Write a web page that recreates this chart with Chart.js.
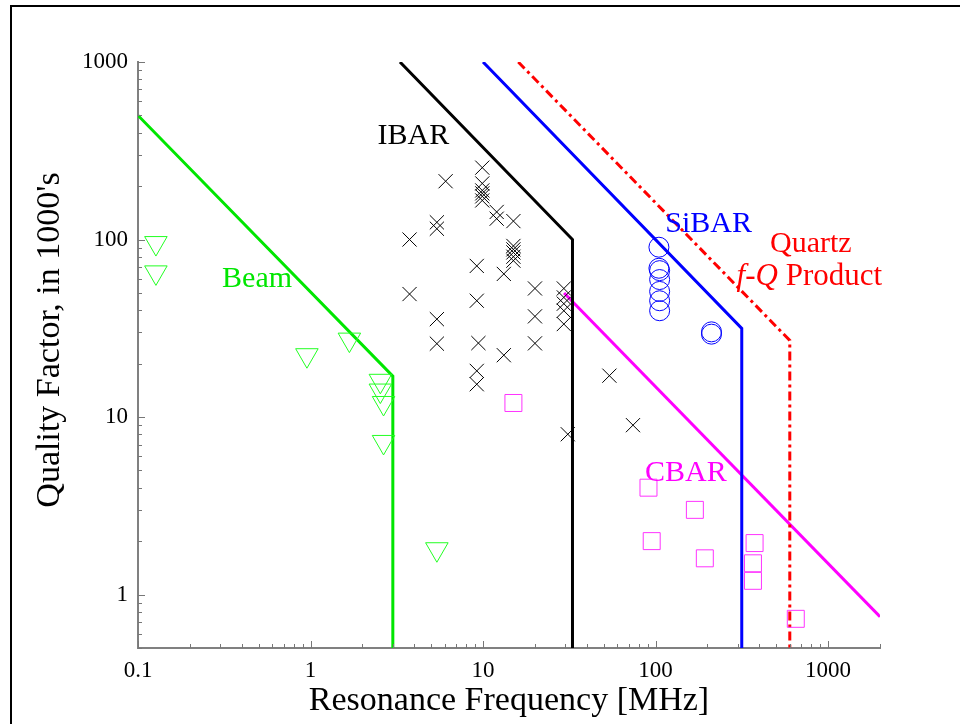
<!DOCTYPE html>
<html>
<head>
<meta charset="utf-8">
<script src="https://cdn.jsdelivr.net/npm/chart.js@4.4.0/dist/chart.umd.min.js"></script>
<style>
  html, body { margin: 0; padding: 0; background: #fff; }
  #wrap { position: relative; width: 960px; height: 724px; overflow: hidden; }
  #frame { position: absolute; left: 10px; top: 5px; width: 960px; height: 730px;
           border-left: 2px solid #000; border-top: 2px solid #000; pointer-events: none; }
</style>
</head>
<body>
<div id="wrap">
  <canvas id="qChart"></canvas>
  <div id="frame"></div>
</div>
<script>
// tick values
var xTicks = [0.1, 1, 10, 100, 1000];
var yTicks = [1, 10, 100, 1000];

// measured devices
var beamFreq = [0.127, 0.127, 0.953, 1.68, 2.54, 2.54, 2.65, 2.65, 5.4];
var beamQ = [95.5, 65.3, 22.3, 27.3, 16.0, 14.1, 12.0, 7.24, 1.8];

var ibarFreq = [6.07, 9.9, 9.9, 9.9, 9.9, 9.9, 9.9, 12, 12, 15, 5.4, 5.4, 3.75,
  15, 15, 15, 15, 15, 9.2, 13.2, 20, 29.4, 29.4, 29.4, 29.4, 29.4, 3.75, 9.2,
  5.4, 20, 5.4, 9.4, 20, 13.2, 9.2, 9.2, 31, 54, 74];
var ibarQ = [213, 254, 207, 189, 182, 175, 166, 143, 131, 127, 125, 115, 100,
  92, 88, 84.6, 80, 76, 71, 64, 53, 53, 47.2, 43.5, 39.7, 33.4, 49.3, 45.2,
  35.6, 36.9, 25.9, 26.1, 26, 22.3, 18.2, 15.3, 8, 17.1, 9];

var sibarFreq = [104.6, 104.6, 105.6, 105.6, 105.6, 105.6, 105.6, 211, 211];
var sibarQ = [90.5, 68.9, 66.8, 59.5, 51, 45.2, 39.7, 30.2, 29.3];

var cbarFreq = [15, 91, 169, 95, 193, 375, 367, 367, 650];
var cbarQ = [12, 4, 3, 2, 1.6, 1.95, 1.5, 1.195, 0.73];

// limit lines (f-Q products)
var beamLineF = [0.1, 3, 3];
var beamLineQ = [500, 17, 0.5];
var ibarLineF = [3.3, 33, 33];
var ibarLineQ = [1000, 100, 0.5];
var sibarLineF = [10, 316, 316];
var sibarLineQ = [1000, 31.6, 0.5];
var quartzLineF = [16, 600, 600];
var quartzLineQ = [1000, 27, 0.5];
var cbarLineF = [29.5, 2000];
var cbarLineQ = [50, 0.75];

function pts(xs, ys) {
  return xs.map(function (x, i) { return { x: x, y: ys[i] }; });
}

function lineSet(xs, ys, color, dash) {
  return {
    data: pts(xs, ys),
    showLine: true,
    borderColor: color,
    borderWidth: 3,
    borderDash: dash || [],
    pointRadius: 0,
    fill: false
  };
}

function markSet(xs, ys, color, style, r, rot) {
  return {
    data: pts(xs, ys),
    showLine: false,
    pointStyle: style,
    pointRadius: r,
    pointRotation: rot || 0,
    borderColor: color,
    backgroundColor: 'rgba(0,0,0,0)',
    borderWidth: 1
  };
}

// text labels placed in data coordinates
var notes = [
  { text: 'Beam', x: 0.49, y: 54, color: '#00e600' },
  { text: 'IBAR', x: 3.95, y: 344, color: '#000000' },
  { text: 'SiBAR', x: 203, y: 110, color: '#0000ff' },
  { text: 'Quartz', x: 794, y: 84.7, color: '#ff0000' },
  { text: 'CBAR', x: 150, y: 4.35, color: '#ff00ff' }
];

var serif = '"Liberation Serif", "Times New Roman", serif';

var extras = {
  id: 'extras',
  afterDraw: function (chart) {
    var ctx = chart.ctx, xs = chart.scales.x, ys = chart.scales.y, a = chart.chartArea;
    ctx.save();
    ctx.strokeStyle = '#777';
    ctx.lineWidth = 1;
    ctx.beginPath();
    for (var d = -1; d <= 3; d++) {
      for (var k = 1; k <= 9; k++) {
        var v = k * Math.pow(10, d);
        var len = k === 1 ? 7 : 4;
        if (v >= xs.min * 0.999 && v <= xs.max * 1.001) {
          var px = Math.round(xs.getPixelForValue(v)) + 0.5;
          ctx.moveTo(px, a.bottom);
          ctx.lineTo(px, a.bottom - len);
        }
        if (v >= ys.min * 0.999 && v <= ys.max * 1.001) {
          var py = Math.round(ys.getPixelForValue(v)) + 0.5;
          ctx.moveTo(a.left, py);
          ctx.lineTo(a.left + len, py);
        }
      }
    }
    ctx.stroke();

    ctx.font = '30px ' + serif;
    ctx.textAlign = 'center';
    ctx.textBaseline = 'alphabetic';
    notes.forEach(function (n) {
      ctx.fillStyle = n.color;
      ctx.fillText(n.text, xs.getPixelForValue(n.x), ys.getPixelForValue(n.y));
    });

    // "f-Q Product" with italic f-Q
    var cx = xs.getPixelForValue(779), cy = ys.getPixelForValue(55.7);
    ctx.fillStyle = '#ff0000';
    ctx.font = 'italic 31px ' + serif;
    var w1 = ctx.measureText('f-Q').width;
    ctx.font = '31px ' + serif;
    var w2 = ctx.measureText(' Product').width;
    var sx = cx - (w1 + w2) / 2;
    ctx.textAlign = 'left';
    ctx.font = 'italic 31px ' + serif;
    ctx.fillText('f-Q', sx, cy);
    ctx.font = '31px ' + serif;
    ctx.fillText(' Product', sx + w1, cy);

    // y axis title, a little above the axis centre as in the original
    ctx.translate(50, 340);
    ctx.rotate(-Math.PI / 2);
    ctx.textAlign = 'center';
    ctx.textBaseline = 'middle';
    ctx.fillStyle = '#000';
    ctx.font = '34px ' + serif;
    ctx.fillText("Quality Factor, in 1000's", 0, 0);
    ctx.restore();
  }
};

var ctx = document.getElementById('qChart').getContext('2d');
var qChart = new Chart(ctx, {
  type: 'scatter',
  data: {
    datasets: [
      markSet(beamFreq, beamQ, '#22ff22', 'triangle', 13, 180),
      markSet(ibarFreq, ibarQ, '#000000', 'crossRot', 10),
      markSet(sibarFreq, sibarQ, '#0000ff', 'circle', 10),
      markSet(cbarFreq, cbarQ, '#ff33ff', 'rect', 12),
      lineSet(beamLineF, beamLineQ, '#00e600'),
      lineSet(ibarLineF, ibarLineQ, '#000000'),
      lineSet(sibarLineF, sibarLineQ, '#0000ff'),
      lineSet(quartzLineF, quartzLineQ, '#ff0000', [9, 4, 3, 4]),
      lineSet(cbarLineF, cbarLineQ, '#ff00ff')
    ]
  },
  options: {
    responsive: true,
    maintainAspectRatio: false,
    animation: false,
    layout: { padding: { left: 0, top: 62, right: 80, bottom: 0 } },
    plugins: {
      legend: { display: false },
      tooltip: { enabled: false }
    },
    scales: {
      x: {
        type: 'logarithmic',
        min: 0.1,
        max: 2000,
        afterFit: function (s) { s.height = 76; },
        afterBuildTicks: function (s) { s.ticks = xTicks.map(function (v) { return { value: v }; }); },
        grid: { display: false, drawTicks: false },
        border: { display: true, color: '#808080', width: 2 },
        ticks: {
          autoSkip: false, maxRotation: 0, padding: 9, color: '#000',
          font: { family: serif, size: 23 },
          callback: function (v) { return String(v); }
        },
        title: {
          display: true, text: 'Resonance Frequency [MHz]', color: '#000',
          font: { family: serif, size: 34, lineHeight: 1 },
          padding: { top: 0, bottom: 6 }
        }
      },
      y: {
        type: 'logarithmic',
        min: 0.5,
        max: 1000,
        afterFit: function (s) { s.width = 138; },
        afterBuildTicks: function (s) { s.ticks = yTicks.map(function (v) { return { value: v }; }); },
        grid: { display: false, drawTicks: false },
        border: { display: true, color: '#808080', width: 2 },
        ticks: {
          autoSkip: false, padding: 10, color: '#000',
          font: { family: serif, size: 23 },
          callback: function (v) { return String(v); }
        }
      }
    }
  },
  plugins: [extras]
});
</script>
</body>
</html>
